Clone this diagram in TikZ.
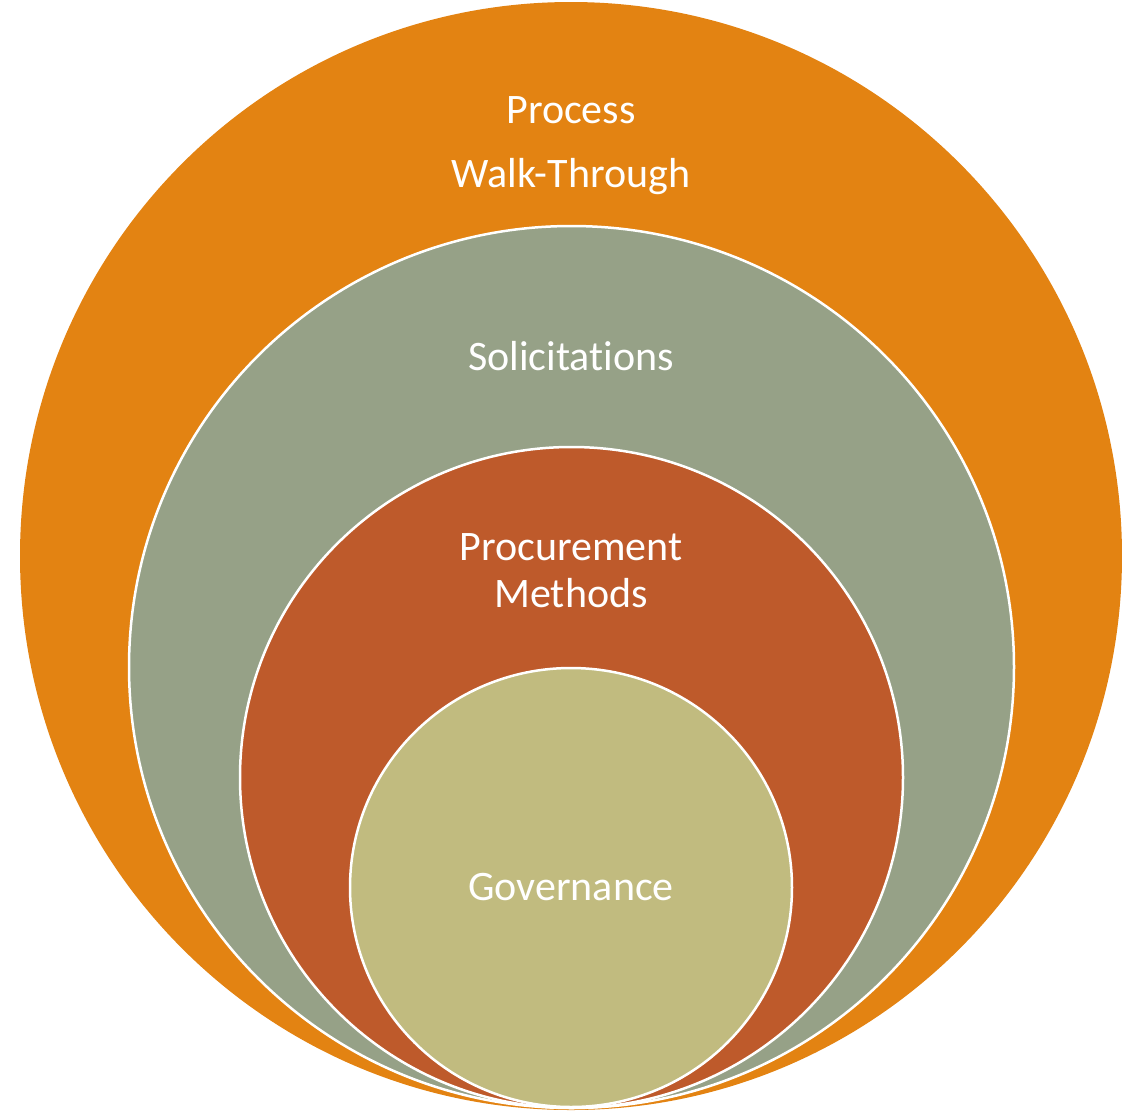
\documentclass[tikz,border=0pt]{standalone}
\usepackage{fontspec}
\setmainfont{Carlito}[Ligatures=NoCommon]
\definecolor{ringorange}{HTML}{E38312}
\definecolor{ringsage}{HTML}{96A187}
\definecolor{ringrust}{HTML}{BE5A2B}
\definecolor{ringkhaki}{HTML}{C1BB7F}
\begin{document}
\begin{tikzpicture}[x=1pt,y=-1pt,
  ring/.style={draw=white,line width=2.5pt},
  lbl/.style={text=white,font=\fontsize{42}{50}\selectfont,anchor=base,inner sep=0pt}]
\useasboundingbox (0,0) rectangle (1122,1112);
% nested rings, all touching at the bottom
\fill[ringorange] (571,556) ellipse [x radius=551,y radius=554];
\path[ring,fill=ringsage] (571.5,667) ellipse [x radius=442.5,y radius=441];
\path[ring,fill=ringrust] (571.5,777.5) ellipse [x radius=331.5,y radius=330.5];
\path[ring,fill=ringkhaki] (571,887.5) ellipse [x radius=221,y radius=219.5];
% labels
\node[lbl] (process) at (571,123) {Process};
\node[lbl] (walk) at (571,187) {Walk-Through};
\node[lbl] (solic) at (571,370) {Solicitations};
\node[lbl] (procure) at (571,560) {Procurement};
\node[lbl] (methods) at (571,607) {Methods};
\node[lbl] (gov) at (571,900) {Governance};
\end{tikzpicture}
\end{document}
